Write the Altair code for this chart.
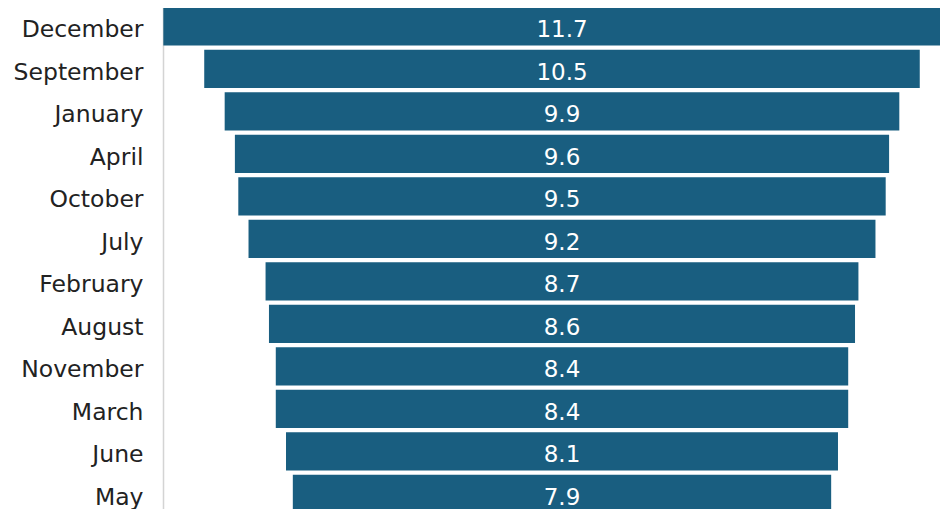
import altair as alt
import pandas as pd

months = ["December", "September", "January", "April", "October", "July",
          "February", "August", "November", "March", "June", "May"]
values = [11.7, 10.5, 9.9, 9.6, 9.5, 9.2, 8.7, 8.6, 8.4, 8.4, 8.1, 7.9]

df = pd.DataFrame({"month": months, "value": values})

FONT = "DejaVu Sans"
BAR = "#195e80"

y = alt.Y(
    "month:N", sort=months, title=None,
    scale=alt.Scale(range=[-2.8, 507.2], paddingInner=0.1, paddingOuter=0.05),
    axis=alt.Axis(ticks=False, tickSize=0, labelPadding=20, labelFontSize=23.5,
                  labelFont=FONT, labelColor="#222222", domainColor="#d4d4d4",
                  domainWidth=1.5, grid=False, labelLimit=300, labelOffset=4),
)
xscale = alt.Scale(domain=[-5.855, 5.547], nice=False, zero=False)

base = alt.Chart(df).transform_calculate(
    lo="-datum.value / 2", hi="datum.value / 2", mid="0"
)

bars = base.mark_bar(color=BAR, clip=True).encode(
    x=alt.X("lo:Q", scale=xscale, axis=None),
    x2="hi:Q",
    y=y,
)

labels = base.mark_text(color="white", fontSize=23, font=FONT, dy=4).encode(
    x=alt.X("mid:Q", scale=xscale, axis=None),
    y=y,
    text=alt.Text("value:Q", format=".1f"),
)

chart = (
    alt.layer(bars, labels)
    .properties(width=777, height=501,
                autosize=alt.AutoSizeParams(type="none"),
                padding={"left": 155, "top": 0, "right": 0, "bottom": 0})
    .configure_view(strokeWidth=0)
)

chart.save("out.html", embed_options={"renderer": "svg", "actions": False})
